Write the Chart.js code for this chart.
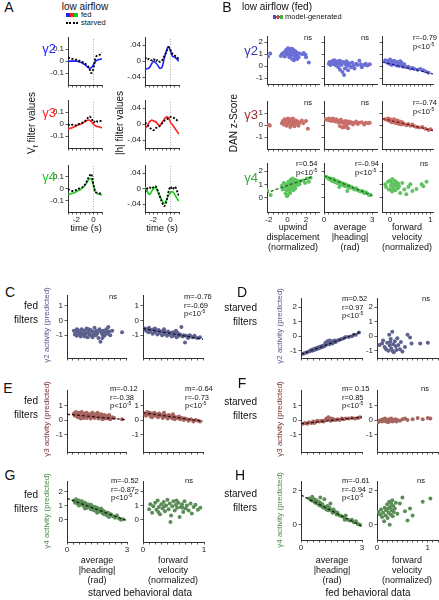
<!DOCTYPE html>
<html><head><meta charset="utf-8">
<script src="https://cdn.jsdelivr.net/npm/chart.js@4.4.1/dist/chart.umd.min.js"></script>
<style>
html,body{margin:0;padding:0;background:#fff;}
body{width:439px;height:600px;position:relative;overflow:hidden;font-family:"Liberation Sans",Arial,sans-serif;color:#111;}
.t{position:absolute;white-space:nowrap;}
canvas{position:absolute;}
sup{font-size:5px;vertical-align:baseline;position:relative;top:-3px;}
</style></head><body>
<script>
const FONT = '"Liberation Sans", Arial, sans-serif';

// ---------- Panel A: filters ----------
const TIME = [-3,-2.75,-2.5,-2.25,-2,-1.75,-1.5,-1.25,-1,-0.75,-0.5,-0.25,0,0.25,0.5,0.75,1];
const G2_VF_FED     = [0,0,0,0,0,-0.005,-0.01,-0.02,-0.03,-0.045,-0.058,-0.055,-0.03,0,0.01,0.015,0.02];
const G2_VF_STARVED = [0.03,0.025,0.02,0.015,0.01,0.005,0,-0.01,-0.02,-0.035,-0.06,-0.1,-0.06,0.03,0.05,0.055,0.07];
const G2_H_FED      = [-0.02,-0.019,-0.017,-0.008,0,-0.004,-0.01,-0.018,-0.015,0.005,0.025,0.037,0.025,0.012,0.01,0.005,0];
const G2_H_STARVED  = [0.01,0.004,0.006,0.002,0.006,0,0.003,-0.002,0.002,0.012,0.022,0.035,0.028,0.018,0.014,0.01,0.004];
const G3_VF_FED     = [-0.04,-0.035,-0.03,-0.022,-0.012,-0.005,0,0.01,0.02,0.03,0.035,0.02,0,-0.015,-0.02,-0.025,-0.03];
const G3_VF_STARVED = [0,-0.01,-0.005,-0.01,-0.01,0,0.005,0.015,0.025,0.045,0.065,0.05,0.015,0.03,0.02,0.025,0.03];
const G3_H_FED      = [-0.012,-0.005,0.005,0.01,0.008,0.006,0,-0.004,0.004,0.012,0.018,0.016,0.005,-0.002,-0.01,-0.018,-0.025];
const G3_H_STARVED  = [0.004,0,-0.008,-0.012,-0.015,-0.01,-0.008,-0.004,0.002,0.008,0.012,0.014,0.018,0.017,0.014,0.01,0.006];
const G4_VF_FED     = [-0.05,-0.045,-0.04,-0.035,-0.025,-0.015,-0.005,0.01,0.03,0.055,0.085,0.08,0.03,-0.03,-0.045,-0.05,-0.055];
const G4_VF_STARVED = [-0.005,-0.012,-0.02,-0.015,-0.01,0,0.005,0.015,0.035,0.07,0.105,0.125,0.03,-0.03,-0.035,-0.04,-0.05];
const G4_H_FED      = [0.005,-0.005,-0.015,-0.008,0,0.003,-0.008,-0.02,-0.03,-0.038,-0.03,-0.018,-0.01,-0.008,-0.015,-0.025,-0.032];
const G4_H_STARVED  = [-0.01,0,0.004,0,0.004,0.006,-0.005,-0.02,-0.035,-0.045,-0.035,-0.01,0.005,-0.002,0.005,-0.005,-0.02];
const A_X_TICKS = [-3,-2.5,-2,-1.5,-1,-0.5,0,0.5,1];
const A_X_LABELS = ['','','-2','','','','0','',''];
const A_VF_TICKS = [-0.1,0,0.1];
const A_VF_LABELS = ['-0.1','0','0.1'];
const A_H_TICKS = [-0.04,0,0.04];
const A_H_LABELS = ['-.04','0','.04'];

// ---------- Panel B: DAN z-score vs behaviour ----------
const B_G2_UPWIND = [[-2.1,0.8],[-1.85,1.05],[-0.7,0.85],[-0.6,1.0],[-0.45,1.1],[-0.3,0.8],[-0.25,1.2],[-0.15,1.35],[-0.1,0.95],[0,1.1],[0.05,1.5],[0.1,1.25],[0.15,1.0],[0.2,0.75],[0.25,1.4],[0.3,1.15],[0.35,0.9],[0.4,1.3],[0.45,1.05],[0.5,0.6],[0.55,1.2],[0.6,0.95],[0.65,1.35],[0.7,0.5],[0.75,1.1],[0.8,0.85],[0.85,1.25],[0.9,0.7],[0.95,1.0],[1.0,1.15],[1.05,0.6],[1.1,0.9],[1.2,0.75],[1.3,1.05],[1.6,1.0],[1.75,1.1],[1.95,0.95],[2.0,0.75],[2.3,0.3],[0.2,1.45],[0.5,1.45]];
const B_G2_HEADING = [[0.3,0.2],[0.35,0.35],[0.4,0.1],[0.5,0.3],[0.55,0.45],[0.6,0.15],[0.7,0.35],[0.75,0.05],[0.8,0.25],[0.85,0.4],[0.9,-0.1],[0.95,0.2],[1.0,-0.3],[1.05,0.3],[1.1,0.1],[1.15,-0.5],[1.2,0.35],[1.25,-0.75],[1.3,-0.2],[1.35,0.15],[1.4,0.4],[1.45,0],[1.5,-0.35],[1.55,0.25],[1.6,0.1],[1.7,-0.1],[1.75,0.3],[1.85,0.05],[1.9,-0.2],[2.0,0.2],[2.1,0.1],[2.2,0.45],[2.3,0.15],[2.35,-0.1],[2.5,0.1],[2.6,0.2],[2.7,0.05],[2.85,0.15],[0.65,0.5],[1.0,0.45]];
const B_G2_FWD = [[-0.12,0.5],[-0.08,0.3],[-0.05,0.45],[-0.02,0.2],[0,0.55],[0.02,0.35],[0.04,0.1],[0.06,0.4],[0.08,0.25],[0.1,0.45],[0.12,0.15],[0.14,0.3],[0.16,0.05],[0.18,0.35],[0.2,0.2],[0.22,0],[0.24,0.25],[0.26,0.1],[0.28,0.3],[0.3,0.05],[0.32,-0.05],[0.35,0.15],[0.4,-0.1],[0.45,-0.05],[0.5,-0.2],[0.55,-0.15],[0.6,-0.25],[0.68,-0.3],[0.75,-0.25],[0.82,-0.35],[0.88,-0.45],[0.95,-0.55],[0.05,0.3],[0.15,0.2],[0.25,0.4]];
const B_G2_FWD_FIT = [[-0.2,0.35],[1.06,-0.65]];
const B_G3_UPWIND = [[-2.15,0],[-2.0,0.02],[-1.9,-0.02],[-0.6,0.15],[-0.5,0.35],[-0.4,0.05],[-0.3,0.5],[-0.2,0.25],[-0.1,-0.05],[0,0.4],[0.05,0.55],[0.1,0.2],[0.15,0.45],[0.2,0.1],[0.25,0.35],[0.3,-0.15],[0.35,0.5],[0.4,0.25],[0.45,0.4],[0.5,0.05],[0.55,0.3],[0.6,0.45],[0.65,0.15],[0.7,0.35],[0.75,-0.1],[0.8,0.25],[0.9,0.4],[1.0,0.1],[1.1,0.3],[1.2,-0.05],[1.3,0.2],[1.55,0.4],[1.7,0.15],[2.0,0.35],[2.2,-0.3],[-0.25,0.05],[0.6,0.55]];
const B_G3_HEADING = [[0.1,0.5],[0.2,0.45],[0.3,0.55],[0.35,0.4],[0.45,0.5],[0.5,0.35],[0.6,0.45],[0.7,0.3],[0.75,0.5],[0.85,0.4],[0.9,0.2],[0.95,0.35],[1.0,-0.1],[1.05,0.45],[1.1,0.25],[1.15,-0.2],[1.2,0.3],[1.25,0.1],[1.3,-0.15],[1.35,0.35],[1.4,0],[1.45,0.2],[1.5,-0.25],[1.55,0.3],[1.6,0.15],[1.7,0.25],[1.8,0.05],[1.9,0.2],[2.0,0.3],[2.1,0.1],[2.2,0.2],[2.35,0.25],[2.5,0.05],[2.6,0.2],[2.75,0.15],[2.85,0.2],[0.55,0.55],[1.0,0.4]];
const B_G3_FWD = [[-0.12,0.5],[-0.08,0.45],[-0.05,0.55],[-0.02,0.35],[0,0.5],[0.02,0.4],[0.04,0.25],[0.06,0.45],[0.08,0.3],[0.1,0.5],[0.12,0.2],[0.14,0.35],[0.16,0.15],[0.18,0.4],[0.2,0.25],[0.22,0.1],[0.24,0.3],[0.26,0.2],[0.28,0.05],[0.3,0.25],[0.35,0.1],[0.4,0],[0.45,0.1],[0.5,-0.05],[0.55,0.05],[0.6,-0.1],[0.65,-0.15],[0.72,-0.2],[0.8,-0.15],[0.87,-0.3],[0.95,-0.4],[1.0,-0.35]];
const B_G3_FWD_FIT = [[-0.2,0.55],[1.06,-0.45]];
const B_G4_UPWIND = [[-2.2,0.55],[-1.8,0.2],[-0.6,0.9],[-0.5,0.6],[-0.4,1.1],[-0.3,0.75],[-0.2,0.3],[-0.15,1.0],[-0.1,0.55],[0,0.85],[0.05,0.2],[0.1,1.2],[0.15,0.7],[0.2,0.45],[0.25,1.0],[0.3,0.9],[0.35,1.35],[0.4,0.65],[0.45,1.1],[0.5,0.8],[0.55,1.45],[0.6,1.0],[0.65,0.55],[0.7,1.2],[0.75,0.9],[0.8,1.35],[0.85,0.7],[0.9,1.1],[1.0,1.3],[1.1,0.95],[1.2,1.15],[1.3,1.0],[1.4,1.25],[1.7,1.3],[1.9,1.1],[2.1,1.45],[2.3,1.2],[2.5,1.5],[-0.05,0.1],[0.3,0.35]];
const B_G4_UPWIND_FIT = [[-2.3,0.35],[2.6,1.55]];
const B_G4_HEADING = [[0.05,1.6],[0.15,1.55],[0.25,1.5],[0.3,1.4],[0.4,1.45],[0.45,1.3],[0.5,1.35],[0.55,1.25],[0.6,1.4],[0.65,1.2],[0.7,1.3],[0.75,1.15],[0.8,1.25],[0.85,1.1],[0.9,1.2],[0.95,1.05],[1.0,1.15],[1.05,1.0],[1.1,1.1],[1.15,0.95],[1.2,1.05],[1.25,0.9],[1.3,1.0],[1.35,0.85],[1.4,0.95],[1.5,0.8],[1.55,0.9],[1.6,0.75],[1.7,0.8],[1.8,0.7],[1.9,0.6],[2.0,0.7],[2.1,0.55],[2.2,0.5],[2.3,0.45],[2.4,0.5],[2.5,0.35],[2.6,0.4],[2.7,0.3],[2.8,0.2],[2.9,0.2],[1.45,0.5],[0.95,0.8]];
const B_G4_HEADING_FIT = [[0,1.65],[3,0.15]];
const B_G4_FWD = [[-0.12,1.0],[-0.1,0.8],[-0.05,1.2],[-0.03,0.6],[0,1.3],[0.02,0.9],[0.04,1.1],[0.05,0.45],[0.06,1.4],[0.08,0.75],[0.1,1.0],[0.12,1.25],[0.13,0.55],[0.15,0.9],[0.17,1.15],[0.19,0.7],[0.2,1.05],[0.22,0.85],[0.25,0.35],[0.3,1.1],[0.35,0.6],[0.4,0.25],[0.45,0.8],[0.5,1.0],[0.55,0.5],[0.65,0.65],[0.78,1.0],[0.82,0.85],[0.9,1.2],[0,0.6],[0.1,0.55]];
const B_UPW_TICKS = [-2,-1.5,-1,-0.5,0,0.5,1,1.5,2,2.5,3];
const B_UPW_LABELS = ['-2','','','','0','','','','2','',''];
const B_HEAD_TICKS = [0,0.3,0.6,0.9,1.2,1.5,1.8,2.1,2.4,2.7,3];
const B_HEAD_LABELS = ['0','','','','','','','','','','3'];
const B_FWD_TICKS = [-0.1,0,0.1,0.2,0.3,0.4,0.5,0.6,0.7,0.8,0.9,1];
const B_FWD_LABELS = ['','0','','','','','','','','','','1'];

// ---------- Panels C-H: predicted activity ----------
const C_HEADING = [[0.35,-0.7],[0.4,-0.95],[0.45,-0.8],[0.5,-1.05],[0.55,-0.65],[0.6,-0.9],[0.65,-0.75],[0.7,-1.1],[0.75,-0.6],[0.8,-0.85],[0.85,-1.0],[0.9,-0.7],[0.95,-0.9],[1.0,-0.55],[1.05,-1.15],[1.1,-0.8],[1.15,-0.95],[1.2,-0.65],[1.25,-1.05],[1.3,-0.75],[1.35,-0.9],[1.4,-0.5],[1.45,-1.0],[1.5,-0.7],[1.55,-0.85],[1.6,-1.2],[1.65,-0.6],[1.7,-1.45],[1.75,-0.8],[1.8,-0.95],[1.85,-0.7],[1.9,-1.05],[1.95,-0.85],[2.0,-0.6],[2.05,-0.9],[2.1,-0.45],[2.15,-0.75],[2.2,-1.0],[2.3,-0.7],[2.8,-0.8],[0.5,-0.6],[0.7,-0.95],[0.9,-1.1],[1.1,-0.6],[1.3,-1.15],[1.5,-0.95],[1.7,-0.7],[1.9,-0.8],[0.6,-0.75],[1.0,-0.85],[1.4,-0.8],[1.8,-1.2],[2.0,-0.8]];
const C_FWD = [[0.03,-0.55],[0.05,-0.7],[0.07,-0.6],[0.09,-0.8],[0.1,-0.5],[0.12,-0.75],[0.14,-0.65],[0.16,-0.9],[0.18,-0.6],[0.2,-0.8],[0.22,-0.7],[0.24,-0.95],[0.26,-0.65],[0.28,-0.85],[0.3,-0.75],[0.32,-1.0],[0.34,-0.7],[0.36,-0.9],[0.38,-0.8],[0.4,-1.05],[0.42,-0.75],[0.44,-0.95],[0.46,-0.85],[0.48,-1.1],[0.5,-0.8],[0.52,-1.0],[0.54,-0.9],[0.56,-1.15],[0.58,-0.85],[0.6,-1.05],[0.62,-0.95],[0.64,-0.45],[0.66,-1.1],[0.68,-1.0],[0.7,-1.5],[0.72,-1.05],[0.75,-1.2],[0.78,-1.0],[0.8,-1.1],[0.83,-1.15],[0.86,-1.05],[0.9,-1.2],[0.95,-1.15],[0.2,-0.55],[0.35,-0.6],[0.55,-0.7]];
const C_FWD_FIT = [[0,-0.55],[1,-1.28]];
const D_HEADING = [[0.1,-1.2],[0.2,-1.15],[0.3,-1.1],[0.4,-1.05],[0.45,-1.0],[0.5,-0.95],[0.55,-1.0],[0.6,-0.9],[0.65,-0.95],[0.7,-0.85],[0.75,-0.9],[0.8,-0.8],[0.85,-0.85],[0.9,-0.75],[0.95,-0.8],[1.0,-0.7],[1.05,-0.75],[1.1,-0.65],[1.15,-0.7],[1.2,-0.6],[1.25,-0.5],[1.3,-0.55],[1.35,-0.4],[1.4,-0.3],[1.45,-0.45],[1.5,-0.35],[1.55,-0.5],[1.6,-0.4],[1.65,-0.3],[1.7,-0.4],[1.8,-0.3],[1.9,-0.25],[2.0,-0.2],[2.1,-0.15],[2.2,-0.05],[2.35,-0.05],[2.5,0],[2.6,0.1],[2.7,0.1],[2.85,0.25],[1.4,-0.55],[1.3,-0.35],[1.2,-0.45]];
const D_HEADING_FIT = [[0,-1.25],[3,0.32]];
const D_FWD = [[0.05,-0.6],[0.1,-0.5],[0.12,-0.3],[0.15,-0.75],[0.18,-0.9],[0.2,-0.45],[0.22,-1.0],[0.24,0.1],[0.25,-0.65],[0.27,-0.2],[0.28,-0.85],[0.3,0.3],[0.32,-0.55],[0.33,-1.1],[0.35,-0.35],[0.37,-0.7],[0.38,-0.95],[0.4,-0.15],[0.42,-0.6],[0.45,-0.9],[0.47,-0.4],[0.5,-1.05],[0.55,-0.75],[0.6,0.1],[0.65,-0.1],[0.68,-0.5],[0.85,-0.5],[1.0,-0.45],[0.3,-1.0],[0.26,-0.4]];
const E_HEADING = [[0.35,0.45],[0.4,0.3],[0.45,0.55],[0.5,0.35],[0.55,0.2],[0.6,0.5],[0.65,0.4],[0.7,0.25],[0.75,0.55],[0.8,0.35],[0.85,0.15],[0.9,0.45],[0.95,0.3],[1.0,0.5],[1.05,0.2],[1.1,0.4],[1.15,0.3],[1.2,0.1],[1.25,0.45],[1.3,0.25],[1.35,0.35],[1.4,0.15],[1.45,0.4],[1.5,0.25],[1.55,0.5],[1.6,0.1],[1.65,0.3],[1.7,0.2],[1.75,0.4],[1.8,0.05],[1.85,0.25],[1.9,0.35],[1.95,0.15],[2.0,0.3],[2.05,0.1],[2.1,0.2],[2.15,0.35],[2.2,0.05],[2.3,0.2],[2.4,0.15],[2.8,0.05],[0.5,0.5],[0.7,0.1],[1.0,0.15],[1.3,0.5],[1.6,0.4],[1.9,0.1]];
const E_HEADING_FIT = [[0,0.4],[3,0.02]];
const E_FWD = [[0.03,0.45],[0.05,0.3],[0.07,0.55],[0.09,0.4],[0.11,0.5],[0.13,0.25],[0.15,0.45],[0.17,0.35],[0.19,0.5],[0.21,0.3],[0.23,0.4],[0.25,0.2],[0.27,0.45],[0.29,0.3],[0.31,0.35],[0.33,0.15],[0.35,0.4],[0.37,0.25],[0.39,0.3],[0.41,0.1],[0.43,0.35],[0.45,0.2],[0.47,0.3],[0.49,0.1],[0.51,0.25],[0.53,0.05],[0.55,0.2],[0.57,0.15],[0.6,0.25],[0.62,0.05],[0.65,0.15],[0.68,0],[0.7,0.1],[0.73,0.05],[0.76,-0.05],[0.8,0.05],[0.84,-0.1],[0.88,0],[0.92,-0.05],[0.95,-0.1],[0.15,0.2],[0.35,0.5],[0.5,0.4]];
const E_FWD_FIT = [[0,0.5],[1,-0.08]];
const F_HEADING = [[0.1,-0.25],[0.2,-0.2],[0.3,-0.25],[0.4,-0.15],[0.5,-0.2],[0.6,-0.1],[0.7,-0.15],[0.8,-0.05],[0.9,-0.1],[1.0,-0.05],[1.1,-0.1],[1.2,0],[1.25,0.1],[1.3,0.05],[1.35,0.2],[1.4,0.05],[1.45,-0.05],[1.5,0.1],[1.55,0],[1.6,0.05],[1.7,0],[1.8,0.05],[1.9,0],[2.0,0.1],[2.1,0.05],[2.2,0.1],[2.35,0.1],[2.5,0.15],[2.65,0.1],[2.8,0.15],[2.9,0.2],[0.65,-0.2],[1.15,-0.05]];
const F_HEADING_FIT = [[0,-0.25],[3,0.2]];
const F_FWD = [[0.02,-0.15],[0.05,-0.05],[0.08,0],[0.1,-0.1],[0.12,0.05],[0.14,-0.05],[0.16,0.1],[0.18,-0.1],[0.2,0],[0.22,-0.15],[0.24,0.05],[0.26,-0.05],[0.28,0.1],[0.3,-0.1],[0.32,0],[0.34,-0.05],[0.36,0.05],[0.38,-0.1],[0.4,0],[0.45,-0.05],[0.5,0.05],[0.55,0.1],[0.6,0],[0.7,0.05],[0.8,0.15],[0.9,0.05],[1.0,0.15],[1.05,0.1]];
const G_HEADING = [[0.35,1.35],[0.4,1.2],[0.45,1.45],[0.5,1.25],[0.55,1.1],[0.6,1.35],[0.65,1.2],[0.7,1.05],[0.75,1.3],[0.8,1.1],[0.85,0.95],[0.9,1.2],[0.95,1.0],[1.0,0.85],[1.05,1.1],[1.1,0.9],[1.15,1.0],[1.2,0.75],[1.25,0.95],[1.3,0.8],[1.35,0.65],[1.4,0.9],[1.45,0.7],[1.5,0.85],[1.55,0.55],[1.6,0.75],[1.65,0.6],[1.7,0.8],[1.75,0.5],[1.8,0.65],[1.85,0.4],[1.9,0.55],[2.0,0.3],[2.05,0.5],[2.1,0.2],[2.2,0.4],[2.3,0.25],[2.4,0.15],[2.5,0.3],[2.6,0.1],[2.7,0],[2.8,0.05],[0.6,1.0],[0.9,0.8],[1.2,1.05],[1.5,0.5]];
const G_HEADING_FIT = [[0,1.5],[3,-0.05]];
const G_FWD = [[0.1,0.75],[0.12,1.1],[0.15,0.5],[0.17,0.95],[0.2,1.2],[0.22,0.7],[0.24,1.35],[0.26,0.9],[0.28,0.4],[0.3,1.1],[0.32,0.8],[0.34,1.25],[0.36,0.6],[0.38,1.0],[0.4,1.4],[0.42,0.75],[0.44,1.15],[0.46,0.3],[0.48,0.95],[0.5,1.3],[0.52,0.65],[0.54,1.05],[0.56,0.85],[0.58,1.2],[0.6,0.2],[0.62,0.9],[0.64,1.1],[0.66,0.55],[0.68,1.3],[0.7,0.8],[0.72,1.0],[0.75,0.65],[0.78,1.15],[0.8,0.45],[0.83,0.9],[0.86,1.05],[0.9,0.7],[0.94,0.85],[0.25,0.55],[0.45,-0.15],[0.55,1.35],[0.35,0.95],[0.65,0.85]];
const H_HEADING = [[0.4,1.55],[0.5,1.45],[0.55,1.65],[0.6,1.4],[0.65,1.5],[0.7,1.3],[0.75,1.45],[0.8,1.25],[0.85,1.35],[0.9,1.15],[0.95,1.3],[1.0,1.1],[1.05,1.2],[1.1,1.0],[1.15,1.5],[1.2,1.05],[1.25,0.9],[1.3,1.1],[1.35,0.85],[1.4,1.0],[1.5,0.85],[1.55,0.7],[1.6,0.9],[1.7,0.75],[1.75,0.6],[1.8,0.7],[1.9,0.55],[2.0,0.5],[2.1,0.45],[2.2,0.55],[2.3,0.3],[2.4,0.25],[2.5,0.3],[2.6,0.15],[2.7,0.2],[2.8,0.05],[2.9,0],[0.95,1.6],[1.45,1.25],[2.15,0.3]];
const H_HEADING_FIT = [[0,1.75],[3,-0.1]];
const H_FWD = [[0.03,0.75],[0.06,0.6],[0.08,0.9],[0.1,0.45],[0.12,0.7],[0.14,0.2],[0.15,1.0],[0.17,0.55],[0.18,0.85],[0.2,1.2],[0.21,0.4],[0.22,0.95],[0.23,0.7],[0.24,1.35],[0.25,0],[0.26,1.05],[0.27,0.6],[0.28,1.25],[0.29,0.85],[0.3,1.45],[0.31,0.5],[0.32,1.1],[0.33,0.75],[0.35,0.95],[0.37,1.3],[0.4,0.65],[0.45,1.25],[0.5,1.6],[0.55,0.8],[0.6,0.25],[0.65,0.95],[0.7,0.55],[0.9,1.35],[1.05,1.55]];
const CH_HEAD_TICKS = [0,0.3,0.6,0.9,1.2,1.5,1.8,2.1,2.4,2.7,3];
const CH_HEAD_LABELS = ['0','','','','','','','','','','3'];
const CH_FWD_TICKS = [0,0.1,0.2,0.3,0.4,0.5,0.6,0.7,0.8,0.9,1];
const CH_FWD_LABELS = ['0','','','','','','','','','','1'];
const CH_FWD2_TICKS = [0,0.1,0.2,0.3,0.4,0.5,0.6,0.7,0.8,0.9,1,1.1,1.2];
const CH_FWD2_LABELS = ['0','','','','','','','','','','1','',''];
const Y3_TICKS = [-1,0,1];  const Y3_LABELS = ['-1','0','1'];
const Y4_TICKS = [-1,0,1,2]; const Y4_LABELS = ['-1','0','1','2'];
const Y012_TICKS = [0,1,2];  const Y012_LABELS = ['0','1','2'];
const Y02_TICKS = [0,2];     const Y02_LABELS = ['0','2'];

// ---------- helpers ----------
const PADL = 28, PADT = 3, PADR = 3, PADB = 13;
function axis(dir, min, max, ticks, labels, show) {
  return {
    type: 'linear', min, max,
    afterFit: s => { if (dir === 'x') s.height = PADB; else s.width = PADL; },
    afterBuildTicks: s => { s.ticks = ticks.map(v => ({value: v})); },
    ticks: {font: {family: FONT, size: 8}, color: '#222', padding: dir === 'x' ? 0 : 1.5,
      maxRotation: 0, minRotation: 0, autoSkip: false,
      callback: (v, i) => (show !== false && labels && labels[i]) ? labels[i] : ''},
    grid: {display: true, drawOnChartArea: false, drawTicks: true, tickLength: 2.5, tickColor: '#333', tickWidth: 0.8},
    border: {display: true, color: '#333', width: 1}
  };
}
function chart(box, xa, ya, datasets) {
  const [l, t, w, h] = box;
  const c = document.createElement('canvas');
  const W = w + PADL + PADR, H = h + PADT + PADB;
  c.width = W; c.height = H;
  c.style.cssText = `left:${l - PADL}px;top:${t - PADT}px;width:${W}px;height:${H}px`;
  document.body.appendChild(c);
  new Chart(c, {type: 'scatter', data: {datasets}, options: {
    responsive: false, maintainAspectRatio: false, animation: false, devicePixelRatio: 1, events: [],
    layout: {padding: {left: 0, top: PADT, right: PADR, bottom: 0}, autoPadding: false},
    plugins: {legend: {display: false}, tooltip: {enabled: false}},
    scales: {x: xa, y: ya}
  }});
}
const pts = a => a.map(p => ({x: p[0], y: p[1]}));
const dots = (a, color) => ({data: pts(a), pointRadius: 2, pointBackgroundColor: color, pointBorderWidth: 0, showLine: false});
const fit = (a, color) => ({data: pts(a), showLine: true, pointRadius: 0, borderColor: color, borderWidth: 1.3, borderDash: [3, 2]});
const curve = (ys, color, dash) => ({data: TIME.map((t, i) => ({x: t, y: ys[i]})), showLine: true, pointRadius: 0,
  borderColor: color, borderWidth: dash ? 1.8 : 1.6, borderDash: dash || [], tension: 0.4});
const zeroLine = (lo, hi) => ({data: [{x: 0, y: lo}, {x: 0, y: hi}], showLine: true, pointRadius: 0,
  borderColor: '#999', borderWidth: 0.8, borderDash: [1, 1.5]});

function txt(html, x, y, o = {}) {
  const d = document.createElement('div'); d.className = 't'; d.innerHTML = html;
  const a = o.a || 'c';
  const tx = a === 'c' ? '-50%' : a === 'l' ? '0' : '-100%';
  const ty = o.v === 't' ? '0' : '-50%';
  d.style.cssText = `left:${x}px;top:${y}px;font-size:${o.s || 8}px;color:${o.c || '#111'};line-height:${o.lh || 1};` +
    `text-align:${o.ta || 'center'};transform:translate(${tx},${ty})${o.r ? ' rotate(-90deg)' : ''};` + (o.extra || '');
  document.body.appendChild(d);
}

// ---------- Panel A charts ----------
const BLUE = '#1f22ff', RED = '#ff2020', GREEN = '#1ec81e';
const A_COLS = [68, 145], A_W = 34;
const A_ROWS = [[34, 51], [97, 51], [162, 50]];
const A_SETS = [
  [G2_VF_FED, G2_VF_STARVED, G2_H_FED, G2_H_STARVED, BLUE],
  [G3_VF_FED, G3_VF_STARVED, G3_H_FED, G3_H_STARVED, RED],
  [G4_VF_FED, G4_VF_STARVED, G4_H_FED, G4_H_STARVED, GREEN]
];
A_SETS.forEach((s, r) => {
  const [top, h] = A_ROWS[r];
  const last = r === 2;
  chart([A_COLS[0], top, A_W, h], axis('x', -3, 1, A_X_TICKS, A_X_LABELS, last), axis('y', -0.2, 0.2, A_VF_TICKS, A_VF_LABELS),
    [curve(s[1], '#000', [2, 1.6]), curve(s[0], s[4]), zeroLine(-0.2, 0.2)]);
  chart([A_COLS[1], top, A_W, h], axis('x', -3, 1, A_X_TICKS, A_X_LABELS, last), axis('y', -0.06, 0.06, A_H_TICKS, A_H_LABELS),
    [curve(s[3], '#000', [2, 1.6]), curve(s[2], s[4]), zeroLine(-0.06, 0.06)]);
});

// ---------- Panel B charts ----------
const BC = {g2: '#6b6fd6', g3: '#c86f69', g4: '#5fc35f'};
const BF = {g2: '#20207a', g3: '#7a1515', g4: '#186c18'};
const B_COLS = [[267, 52], [324, 53], [382, 51]];
const B_ROWS = [[33, 51, -1.5, 2.5, Y4_TICKS, Y4_LABELS], [98, 51, -2, 2, Y3_TICKS, Y3_LABELS], [160, 52, -1.1, 2.6, Y012_TICKS, Y012_LABELS]];
const B_X = [[-2.2, 3.4, B_UPW_TICKS, B_UPW_LABELS], [0, 3.3, B_HEAD_TICKS, B_HEAD_LABELS], [-0.2, 1.06, B_FWD_TICKS, B_FWD_LABELS]];
const B_DATA = [
  [[dots(B_G2_UPWIND, BC.g2)], [dots(B_G2_HEADING, BC.g2)], [fit(B_G2_FWD_FIT, BF.g2), dots(B_G2_FWD, BC.g2)]],
  [[dots(B_G3_UPWIND, BC.g3)], [dots(B_G3_HEADING, BC.g3)], [fit(B_G3_FWD_FIT, BF.g3), dots(B_G3_FWD, BC.g3)]],
  [[fit(B_G4_UPWIND_FIT, BF.g4), dots(B_G4_UPWIND, BC.g4)], [fit(B_G4_HEADING_FIT, BF.g4), dots(B_G4_HEADING, BC.g4)], [dots(B_G4_FWD, BC.g4)]]
];
B_ROWS.forEach((row, r) => {
  B_COLS.forEach((col, c) => {
    const xs = B_X[c];
    chart([col[0], row[0], col[1], row[1]], axis('x', xs[0], xs[1], xs[2], xs[3], r === 2),
      axis('y', row[2], row[3], row[4], row[5], c === 0), B_DATA[r][c]);
  });
});

// ---------- Panels C-H charts ----------
const PC = {g2: '#5d618e', g3: '#a66560', g4: '#5b8d57'};
const PF = {g2: '#14142c', g3: '#3a0b0b', g4: '#0e2a0e'};
const headX = show => axis('x', 0, 3, CH_HEAD_TICKS, CH_HEAD_LABELS, show);
// C
chart([67, 292, 59, 66], headX(false), axis('y', -2.55, 1.7, Y3_TICKS, Y3_LABELS), [dots(C_HEADING, PC.g2)]);
chart([143, 292, 60, 66], axis('x', 0, 1, CH_FWD_TICKS, CH_FWD_LABELS, false), axis('y', -2.55, 1.7, Y3_TICKS, Y3_LABELS), [fit(C_FWD_FIT, PF.g2), dots(C_FWD, PC.g2)]);
// D
chart([301, 295, 61, 63], headX(false), axis('y', -1.5, 2.6, Y4_TICKS, Y4_LABELS), [fit(D_HEADING_FIT, PF.g2), dots(D_HEADING, PC.g2)]);
chart([377, 295, 61, 63], axis('x', 0, 1.2, CH_FWD2_TICKS, CH_FWD2_LABELS, false), axis('y', -1.5, 2.6, Y4_TICKS, Y4_LABELS), [dots(D_FWD, PC.g2)]);
// E
chart([67, 387, 59, 65], headX(false), axis('y', -2.2, 2.05, Y3_TICKS, Y3_LABELS), [fit(E_HEADING_FIT, PF.g3), dots(E_HEADING, PC.g3)]);
chart([143, 387, 60, 65], axis('x', 0, 1, CH_FWD_TICKS, CH_FWD_LABELS, false), axis('y', -2.2, 2.05, Y3_TICKS, Y3_LABELS), [fit(E_FWD_FIT, PF.g3), dots(E_FWD, PC.g3)]);
// F
chart([301, 387, 61, 65], headX(false), axis('y', -2.2, 2.05, Y3_TICKS, Y3_LABELS), [fit(F_HEADING_FIT, PF.g3), dots(F_HEADING, PC.g3)]);
chart([377, 387, 61, 65], axis('x', 0, 1.2, CH_FWD2_TICKS, CH_FWD2_LABELS, false), axis('y', -2.2, 2.05, Y3_TICKS, Y3_LABELS), [dots(F_FWD, PC.g3)]);
// G
chart([67, 478, 60, 64], headX(true), axis('y', -1.55, 2.7, Y012_TICKS, Y012_LABELS), [fit(G_HEADING_FIT, PF.g4), dots(G_HEADING, PC.g4)]);
chart([143, 478, 61, 64], axis('x', 0, 1, CH_FWD_TICKS, CH_FWD_LABELS, true), axis('y', -1.55, 2.7, Y012_TICKS, Y012_LABELS), [dots(G_FWD, PC.g4)]);
// H
chart([301, 478, 61, 62], headX(true), axis('y', -0.9, 2.56, Y02_TICKS, Y02_LABELS), [fit(H_HEADING_FIT, PF.g4), dots(H_HEADING, PC.g4)]);
chart([377, 478, 61, 62], axis('x', 0, 1.2, CH_FWD2_TICKS, CH_FWD2_LABELS, true), axis('y', -0.9, 2.56, Y02_TICKS, Y02_LABELS), [dots(H_FWD, PC.g4)]);

// ---------- texts ----------
const P5 = 'p&lt;10<sup>-5</sup>';
[['A', 9, 7], ['B', 227, 7], ['C', 10, 292], ['D', 242, 292], ['E', 8, 388], ['F', 242, 383], ['G', 10, 475], ['H', 240, 475]]
  .forEach(([s, x, y]) => txt(s, x, y, {s: 14}));
// Panel A
txt('low airflow', 85, 7, {s: 10});
txt('', 72, 15, {extra: `width:12px;height:4px;background:linear-gradient(90deg,${BLUE} 0 33%,${RED} 33% 66%,${GREEN} 66% 100%);`});
txt('fed', 81, 15, {a: 'l', s: 7.5});
txt('', 72, 23, {extra: 'width:12px;height:0;border-top:2px dotted #000;'});
txt('starved', 81, 23, {a: 'l', s: 7.5});
txt('γ2', 49, 48, {s: 13, c: BLUE});
txt('γ3', 49, 112, {s: 13, c: RED});
txt('γ4', 49, 176, {s: 13, c: GREEN});
txt('V<sub style="font-size:7px">f</sub> filter values', 33, 123, {s: 10, r: true});
txt('|h| filter values', 120, 123, {s: 10, r: true});
txt('time (s)', 86, 228, {s: 9.5});
txt('time (s)', 162, 228, {s: 9.5});
// Panel B
txt('low airflow (fed)', 277, 7, {s: 10});
txt('', 278, 17, {extra: `width:11px;height:4px;background:radial-gradient(circle at 2px 2px,#4a50c8 1.8px,transparent 2px),radial-gradient(circle at 5.5px 2px,#c04a45 1.8px,transparent 2px),radial-gradient(circle at 9px 2px,#3cb43c 1.8px,transparent 2px);`});
txt('model-generated', 285, 17, {a: 'l', s: 7.5});
txt('γ2', 251, 50, {s: 13, c: '#3535b8'});
txt('γ3', 251, 114, {s: 13, c: '#a82a2a'});
txt('γ4', 251, 177, {s: 13, c: '#3aa83a'});
txt('DAN z-Score', 234, 123, {s: 10, r: true});
const ann = (html, x, y, a) => txt(html, x, y, {a: a || 'l', v: 't', s: 7.5, lh: 1.15, ta: 'left'});
ann('ns', 308, 34, 'c'); ann('ns', 365, 34, 'c'); ann('r=-0.79<br>' + P5, 413, 34);
ann('ns', 308, 99, 'c'); ann('ns', 365, 99, 'c'); ann('r=-0.74<br>' + P5, 413, 99);
ann('r=0.54<br>' + P5, 296, 160); ann('r=-0.94<br>' + P5, 355, 160); ann('ns', 424, 160, 'c');
const tri = (a, b, c) => a + '<br>' + b + '<br>' + c;
txt(tri('upwind', 'displacement', '(normalized)'), 293, 238, {s: 9, lh: 1.1});
txt(tri('average', '|heading|', '(rad)'), 350, 238, {s: 9, lh: 1.1});
txt(tri('forward', 'velocity', '(normalized)'), 407, 238, {s: 9, lh: 1.1});
// Panels C-H
const rowLab = (a, b, x, y) => txt(a + '<br>' + b, x, y, {a: 'r', s: 10, lh: 1.35, ta: 'right'});
rowLab('fed', 'filters', 38, 312); rowLab('starved', 'filters', 257, 314);
rowLab('fed', 'filters', 38, 407); rowLab('starved', 'filters', 257, 408);
rowLab('fed', 'filters', 38, 501); rowLab('starved', 'filters', 257, 500);
const yl = (g, col, x, y) => txt(`<span style="color:${col}">${g}</span> activity (predicted)`, x, y, {s: 8, r: true, c: col});
yl('γ2', '#55588a', 47, 325); yl('γ2', '#55588a', 280, 326);
yl('γ3', '#7a2e2e', 47, 419); yl('γ3', '#7a2e2e', 280, 419);
yl('γ4', '#4a8a4a', 47, 511); yl('γ4', '#4a8a4a', 280, 510);
ann('ns', 113, 293, 'c'); ann(tri('m=-0.76', 'r=-0.69', P5), 184, 293);
ann(tri('m=0.52', 'r=0.97', P5), 342, 295); ann('ns', 426, 295, 'c');
ann(tri('m=-0.12', 'r=-0.38', P5), 110, 385); ann(tri('m=-0.64', 'r=-0.73', P5), 185, 385);
ann(tri('m= 0.15', 'r=0.85', P5), 342, 385); ann('ns', 425, 385, 'c');
ann(tri('m=-0.52', 'r=-0.87', P5), 111, 477); ann('ns', 189, 477, 'c');
ann(tri('m=-0.61', 'r=-0.94', P5), 342, 477); ann('ns', 421, 477, 'c');
txt(tri('average', '|heading|', '(rad)'), 97, 571, {s: 9, lh: 1.1});
txt(tri('forward', 'velocity', '(normalized)'), 173, 571, {s: 9, lh: 1.1});
txt(tri('average', '|heading|', '(rad)'), 332, 571, {s: 9, lh: 1.1});
txt(tri('forward', 'velocity', '(normalized)'), 407, 571, {s: 9, lh: 1.1});
txt('starved behavioral data', 140, 593, {s: 10});
txt('fed behavioral data', 368, 593, {s: 10});
</script></body></html>
